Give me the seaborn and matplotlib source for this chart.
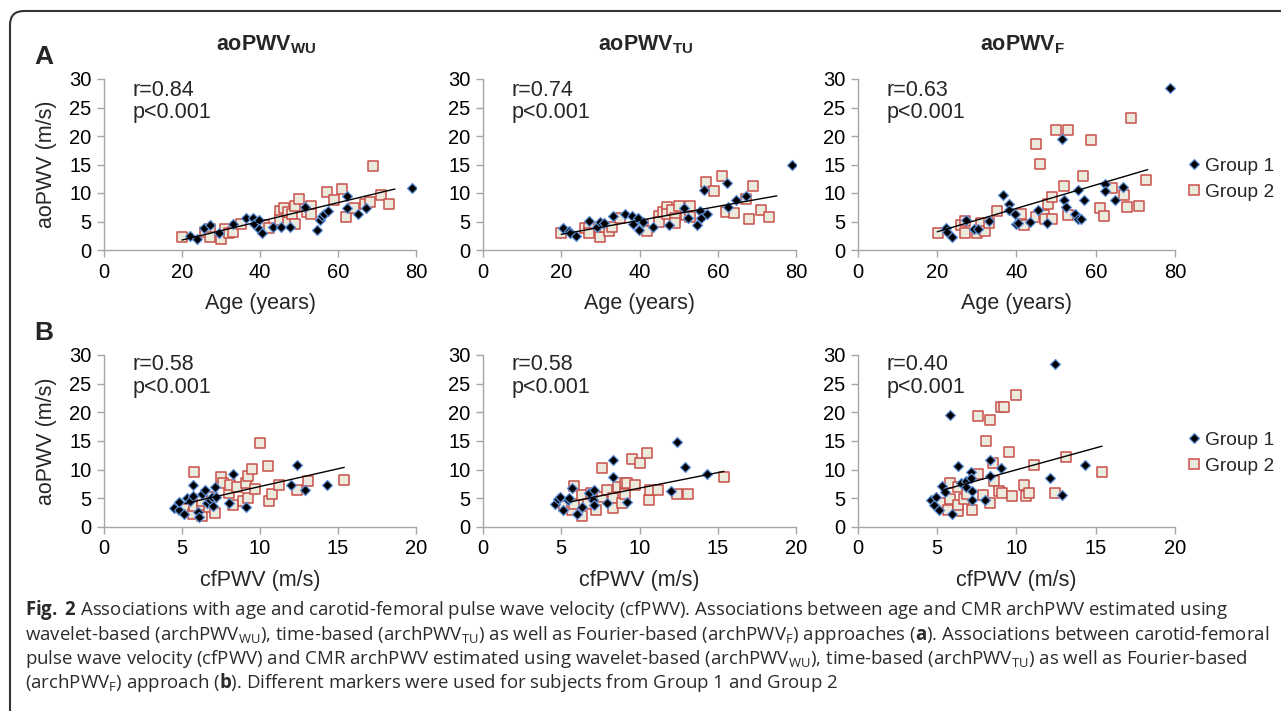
import numpy as np
import pandas as pd
import matplotlib
matplotlib.use("Agg")
import matplotlib.pyplot as plt
import seaborn as sns
from matplotlib.patches import FancyBboxPatch
from matplotlib.transforms import IdentityTransform
from matplotlib.lines import Line2D

sns.set_style("white")
plt.rcParams["font.family"] = ["Liberation Sans", "DejaVu Sans"]
plt.rcParams["mathtext.fontset"] = "custom"
plt.rcParams["mathtext.rm"] = "Open Sans"
plt.rcParams["mathtext.bf"] = "Open Sans:bold"
plt.rcParams["mathtext.it"] = "Open Sans:italic"
plt.rcParams["mathtext.sf"] = "Liberation Sans:bold"

# ---------------- data ----------------
# Row A: age vs aoPWV
a1_g1_x = [22.1, 23.8, 25.7, 27.3, 29.4, 33.2, 36.4, 38.2, 38.4, 39.7, 39.8, 40.5, 43.4, 45.5, 47.6,
           51.5, 54.6, 55.4, 55.8, 56.4, 57.4, 62.2, 62.4, 65.0, 67.1, 78.9]
a1_g1_y = [2.5, 1.9, 3.8, 4.3, 3.0, 4.6, 5.7, 5.6, 4.6, 5.3, 3.7, 2.9, 4.1, 4.1, 4.1,
           7.6, 3.5, 5.3, 6.0, 6.4, 6.8, 9.4, 7.3, 6.3, 7.3, 10.9]
a1_g2_x = [20.1, 26.0, 27.1, 27.1, 30.1, 31.1, 32.1, 33.1, 35.1, 41.1, 42.2, 45.0, 45.1, 46.1, 47.1,
           47.2, 48.1, 49.1, 49.1, 50.1, 52.1, 53.0, 53.1, 57.1, 59.1, 61.1, 62.1, 64.1, 66.9, 68.1,
           69.1, 71.1, 73.1]
a1_g2_y = [2.3, 3.2, 3.6, 2.3, 1.9, 3.6, 2.9, 3.2, 4.5, 4.4, 3.8, 6.9, 5.3, 7.3, 5.0,
           6.6, 6.4, 4.6, 7.7, 9.0, 6.7, 7.8, 6.4, 10.2, 8.8, 10.7, 5.8, 7.3, 8.1, 8.4,
           14.8, 9.6, 8.1]
a1_fit_x = [20.0, 74.6]
a1_fit_y = [1.75, 10.7]

a2_g1_x = [20.4, 22.1, 22.3, 23.8, 27.2, 29.2, 30.0, 30.9, 33.2, 36.4, 38.1, 38.3, 39.6, 39.8, 40.9,
           43.4, 47.5, 51.5, 52.3, 54.6, 55.5, 55.6, 56.4, 57.3, 62.4, 62.6, 64.7, 67.1, 78.9]
a2_g1_y = [3.9, 3.4, 2.9, 2.5, 5.1, 4.1, 4.9, 4.7, 6.0, 6.4, 6.0, 4.5, 5.6, 3.5, 5.0,
           4.1, 4.4, 7.3, 5.6, 4.4, 6.9, 5.6, 10.5, 6.4, 11.7, 7.6, 8.8, 9.4, 15.0]
a2_g2_x = [20.0, 26.0, 27.0, 27.0, 30.0, 31.1, 32.1, 33.0, 35.1, 41.0, 42.0, 45.0, 45.1, 46.0, 47.1,
           47.1, 48.2, 49.1, 49.1, 50.0, 51.9, 53.0, 53.0, 57.0, 59.1, 61.1, 62.1, 64.1, 67.1, 68.1,
           69.1, 71.1, 73.2]
a2_g2_y = [3.0, 3.8, 3.9, 2.9, 2.2, 4.1, 3.4, 4.1, 5.7, 4.3, 3.3, 6.0, 4.9, 6.7, 7.5,
           6.3, 7.0, 5.6, 4.8, 7.8, 6.1, 7.7, 5.8, 12.0, 10.4, 13.0, 6.7, 6.5, 8.9, 5.4,
           11.2, 7.0, 5.8]
a2_fit_x = [20.0, 75.1]
a2_fit_y = [2.75, 9.5]

a3_g1_x = [22.2, 22.4, 23.7, 27.2, 29.3, 30.2, 33.1, 36.5, 38.2, 38.2, 39.5, 39.9, 40.5, 43.5, 45.5,
           47.6, 51.5, 52.0, 52.4, 54.7, 55.5, 55.5, 56.4, 57.0, 62.3, 62.4, 64.8, 66.9, 78.8]
a3_g1_y = [3.8, 3.2, 2.3, 5.2, 3.7, 3.7, 5.1, 9.6, 8.1, 7.1, 6.3, 4.5, 4.8, 4.9, 7.0,
           4.8, 19.5, 8.7, 7.5, 6.4, 10.6, 5.5, 5.5, 8.7, 11.6, 10.3, 8.7, 11.0, 28.5]
a3_g2_x = [20.2, 25.9, 27.0, 27.0, 30.0, 31.0, 32.0, 33.1, 35.0, 41.1, 42.0, 44.9, 44.9, 45.9, 46.9,
           47.1, 47.9, 48.9, 49.0, 50.0, 52.0, 53.0, 53.0, 56.9, 58.9, 61.0, 62.0, 64.0, 67.1, 67.9,
           69.0, 70.9, 72.8]
a3_g2_y = [3.0, 4.3, 5.1, 3.0, 2.9, 4.8, 3.4, 4.8, 6.9, 6.3, 4.4, 18.6, 5.8, 15.1, 6.1,
           5.4, 8.0, 9.3, 5.5, 21.0, 11.2, 21.0, 6.1, 13.0, 19.3, 7.3, 5.9, 10.9, 9.7, 7.5,
           23.2, 7.8, 12.2]
a3_fit_x = [20.0, 73.1]
a3_fit_y = [3.2, 14.1]

# Row B: cfPWV vs aoPWV
b1_g1_x = [4.5, 4.8, 4.8, 5.1, 5.3, 5.5, 5.7, 5.7, 6.0, 6.1, 6.3, 6.5, 6.6, 6.8, 6.9, 7.0, 7.1, 7.2,
           8.0, 8.3, 9.1, 12.0, 12.4, 12.9, 14.3]
b1_g1_y = [3.3, 2.9, 4.3, 2.2, 5.1, 4.5, 5.4, 7.4, 2.6, 1.7, 5.8, 6.4, 4.1, 4.7, 5.2, 3.7, 6.9, 5.2,
           4.2, 9.3, 3.5, 7.4, 10.9, 6.5, 7.4]
b1_g2_x = [5.2, 5.7, 5.8, 5.8, 6.3, 6.3, 6.3, 6.7, 6.9, 7.1, 7.5, 7.6, 8.0, 8.1, 8.3, 8.5, 8.9, 9.1,
           9.2, 9.2, 9.5, 9.7, 10.0, 10.5, 10.6, 10.8, 11.2, 12.4, 13.1, 15.4]
b1_g2_y = [3.1, 2.3, 9.6, 3.7, 2.0, 3.8, 4.5, 3.5, 5.2, 2.4, 8.7, 7.6, 6.0, 7.3, 3.9, 6.9, 4.5, 7.7,
           5.0, 8.9, 10.2, 6.7, 14.7, 10.7, 4.5, 5.8, 7.3, 6.4, 8.0, 8.2]
b1_fit_x = [5.2, 15.4]
b1_fit_y = [4.1, 10.4]

b2_g1_x = [4.6, 4.8, 4.9, 5.1, 5.4, 5.5, 5.7, 6.0, 6.3, 6.8, 7.0, 7.1, 7.1, 7.9, 8.3, 8.3, 9.2,
           12.0, 12.4, 12.9, 14.3]
b2_g1_y = [4.0, 4.8, 5.2, 2.9, 4.7, 5.0, 6.8, 2.2, 3.5, 6.0, 4.7, 6.4, 3.8, 4.2, 11.6, 8.7, 4.4,
           6.3, 14.9, 10.5, 9.2]
b2_g2_x = [5.2, 5.7, 5.8, 5.8, 6.3, 6.3, 6.7, 6.9, 7.2, 7.6, 7.6, 7.9, 8.3, 8.3, 8.6, 8.9, 9.1, 9.1,
           9.2, 9.5, 9.7, 10.0, 10.5, 10.6, 10.7, 11.2, 12.4, 13.1, 15.4]
b2_g2_y = [3.7, 2.9, 7.1, 4.0, 5.5, 2.0, 4.0, 5.9, 3.0, 10.3, 5.2, 6.4, 5.0, 3.3, 6.9, 4.2, 7.6, 5.8,
           7.6, 11.8, 7.3, 11.1, 12.9, 4.7, 6.5, 6.5, 5.7, 5.7, 8.7]
b2_fit_x = [5.6, 15.4]
b2_fit_y = [4.4, 9.7]

b3_g1_x = [4.6, 4.8, 4.9, 5.1, 5.3, 5.5, 5.8, 5.9, 6.3, 6.5, 6.8, 6.8, 7.1, 7.1, 7.2, 7.2, 8.0, 8.3,
           8.3, 9.0, 12.1, 12.4, 12.9, 14.3]
b3_g1_y = [4.7, 3.8, 5.2, 3.0, 7.2, 6.1, 19.5, 2.2, 10.6, 7.6, 8.0, 7.0, 9.6, 8.6, 6.3, 4.7, 4.7, 11.6,
           8.9, 10.3, 8.6, 28.5, 5.5, 10.9]
b3_g2_x = [5.2, 5.7, 5.8, 5.8, 6.3, 6.3, 6.3, 6.7, 6.9, 7.2, 7.6, 7.6, 7.9, 8.1, 8.3, 8.3, 8.5, 8.6,
           8.9, 9.0, 9.2, 9.1, 9.5, 9.7, 10.0, 10.5, 10.6, 10.8, 11.1, 12.4, 13.1, 15.4]
b3_g2_y = [4.2, 3.0, 7.7, 4.8, 6.9, 2.8, 3.8, 4.8, 5.8, 3.0, 19.3, 9.2, 5.6, 15.0, 18.6, 4.2, 11.2, 8.0,
           6.3, 21.0, 21.0, 6.0, 13.0, 5.4, 23.1, 7.3, 5.4, 5.9, 10.9, 6.0, 12.2, 9.6]
b3_fit_x = [5.3, 15.4]
b3_fit_y = [6.4, 14.1]

titles = ["aoPWV", "aoPWV", "aoPWV"]
title_subs = ["WU", "TU", "F"]
r_texts_a = ["r=0.84", "r=0.74", "r=0.63"]
r_texts_b = ["r=0.58", "r=0.58", "r=0.40"]
p_text = "p<0.001"
groups = ["Group 1", "Group 2"]
a_xticks = [0, 20, 40, 60, 80]
b_xticks = [0, 5, 10, 15, 20]
y_ticks = [0, 5, 10, 15, 20, 25, 30]

panels = [
    (a1_g1_x, a1_g1_y, a1_g2_x, a1_g2_y, a1_fit_x, a1_fit_y),
    (a2_g1_x, a2_g1_y, a2_g2_x, a2_g2_y, a2_fit_x, a2_fit_y),
    (a3_g1_x, a3_g1_y, a3_g2_x, a3_g2_y, a3_fit_x, a3_fit_y),
    (b1_g1_x, b1_g1_y, b1_g2_x, b1_g2_y, b1_fit_x, b1_fit_y),
    (b2_g1_x, b2_g1_y, b2_g2_x, b2_g2_y, b2_fit_x, b2_fit_y),
    (b3_g1_x, b3_g1_y, b3_g2_x, b3_g2_y, b3_fit_x, b3_fit_y),
]

# ---------------- figure ----------------
W, H = 1281, 711
fig = plt.figure(figsize=(W / 100, H / 100), dpi=100)
fig.patch.set_facecolor("white")

col_left = [104, 483, 858]
col_w = [312, 313, 317]
row_top = [79, 355]
row_bot = [250, 527]

G1_FACE, G1_EDGE = "#000000", "#5b8fd6"
G2_FACE, G2_EDGE = "#ece9dd", "#c8504a"
SPINE = "#a6a6a6"
FS = 14.5
LFS = 15.5

axes = []
for i, (g1x, g1y, g2x, g2y, fx, fy) in enumerate(panels):
    r, c = divmod(i, 3)
    l = col_left[c] / W
    b = 1 - row_bot[r] / H
    w = col_w[c] / W
    h = (row_bot[r] - row_top[r]) / H
    ax = fig.add_axes([l, b, w, h])
    axes.append(ax)
    d1 = pd.DataFrame({"x": g1x, "y": g1y})
    d2 = pd.DataFrame({"x": g2x, "y": g2y})
    sns.scatterplot(data=d2, x="x", y="y", ax=ax, marker="s", s=58,
                    color=G2_FACE, edgecolor=G2_EDGE, linewidth=1.1, zorder=3)
    sns.scatterplot(data=d1, x="x", y="y", ax=ax, marker="D", s=26,
                    color=G1_FACE, edgecolor=G1_EDGE, linewidth=0.9, zorder=4)
    sns.lineplot(x=fx, y=fy, ax=ax, color="black", linewidth=1.0, zorder=5)
    if r == 0:
        ax.set_xlim(0, 80)
        ax.set_xticks(a_xticks)
    else:
        ax.set_xlim(0, 20)
        ax.set_xticks(b_xticks)
    ax.set_ylim(0, 30)
    ax.set_yticks(y_ticks)
    ax.set_xlabel("")
    ax.set_ylabel("")
    for s in ["top", "right"]:
        ax.spines[s].set_visible(False)
    for s in ["left", "bottom"]:
        ax.spines[s].set_color(SPINE)
        ax.spines[s].set_linewidth(1.0)
    ax.tick_params(axis="both", which="major", direction="out", length=5, width=1.0,
                   color=SPINE, labelsize=FS, labelcolor="black", pad=4,
                   bottom=True, left=True)
    ax.patch.set_alpha(0)
    rt = r_texts_a[c] if r == 0 else r_texts_b[c]
    ax.text(0.09, 0.995 if r == 0 else 1.005, rt + "\n" + p_text, transform=ax.transAxes,
            fontsize=LFS, va="top", ha="left", linespacing=1.1)
    if c == 0:
        ax.set_ylabel("aoPWV (m/s)", fontsize=LFS, labelpad=9)
    ax.set_xlabel("Age (years)" if r == 0 else "cfPWV (m/s)", fontsize=LFS, labelpad=8)

# column titles
for c in range(3):
    cx = (col_left[c] + col_w[c] / 2 + 6) / W
    fig.text(cx, 1 - 45 / H, r"$\mathsf{%s}_{\mathsf{%s}}$" % (titles[c], title_subs[c]),
             ha="center", va="center", fontsize=15.5)

fig.text(34 / W, 1 - 57 / H, "A", fontsize=19, fontweight="bold", ha="left", va="center")
fig.text(34 / W, 1 - 333 / H, "B", fontsize=19, fontweight="bold", ha="left", va="center")

# legends
handles = [
    Line2D([], [], marker="D", linestyle="none", markersize=5, markerfacecolor=G1_FACE,
           markeredgecolor=G1_EDGE, markeredgewidth=0.9),
    Line2D([], [], marker="s", linestyle="none", markersize=7.5, markerfacecolor=G2_FACE,
           markeredgecolor=G2_EDGE, markeredgewidth=1.1),
]
for ax, yc in [(axes[2], 179), (axes[5], 453)]:
    fig.legend(handles, groups, loc="center left",
               bbox_to_anchor=(1188 / W, 1 - yc / H), frameon=False, fontsize=13.8,
               handlelength=0.6, handletextpad=0.3, labelspacing=0.45, borderpad=0,
               borderaxespad=0)

# frame with rounded top-left corner
frame = FancyBboxPatch((10, -60), 1500, H - 11 + 60,
                       boxstyle="round,pad=0,rounding_size=14",
                       transform=IdentityTransform(), fill=False,
                       edgecolor="#333333", linewidth=1.5)
fig.add_artist(frame)

# caption
cap = [
    r"$\mathbf{Fig.}$ $\mathbf{2}$ Associations with age and carotid-femoral pulse wave velocity (cfPWV). Associations between age and CMR archPWV estimated using",
    r"wavelet-based (archPWV$_{\mathrm{WU}}$), time-based (archPWV$_{\mathrm{TU}}$) as well as Fourier-based (archPWV$_{\mathrm{F}}$) approaches ($\mathbf{a}$). Associations between carotid-femoral",
    r"pulse wave velocity (cfPWV) and CMR archPWV estimated using wavelet-based (archPWV$_{\mathrm{WU}}$), time-based (archPWV$_{\mathrm{TU}}$) as well as Fourier-based",
    r"(archPWV$_{\mathrm{F}}$) approach ($\mathbf{b}$). Different markers were used for subjects from Group 1 and Group 2",
]
for k, line in enumerate(cap):
    fig.text(25 / W, 1 - (615 + 24.5 * k) / H, line, fontsize=13.4, family="Open Sans",
             color="#2b2b2b", ha="left", va="baseline")

fig.savefig("out.png", dpi=100, facecolor="white")
